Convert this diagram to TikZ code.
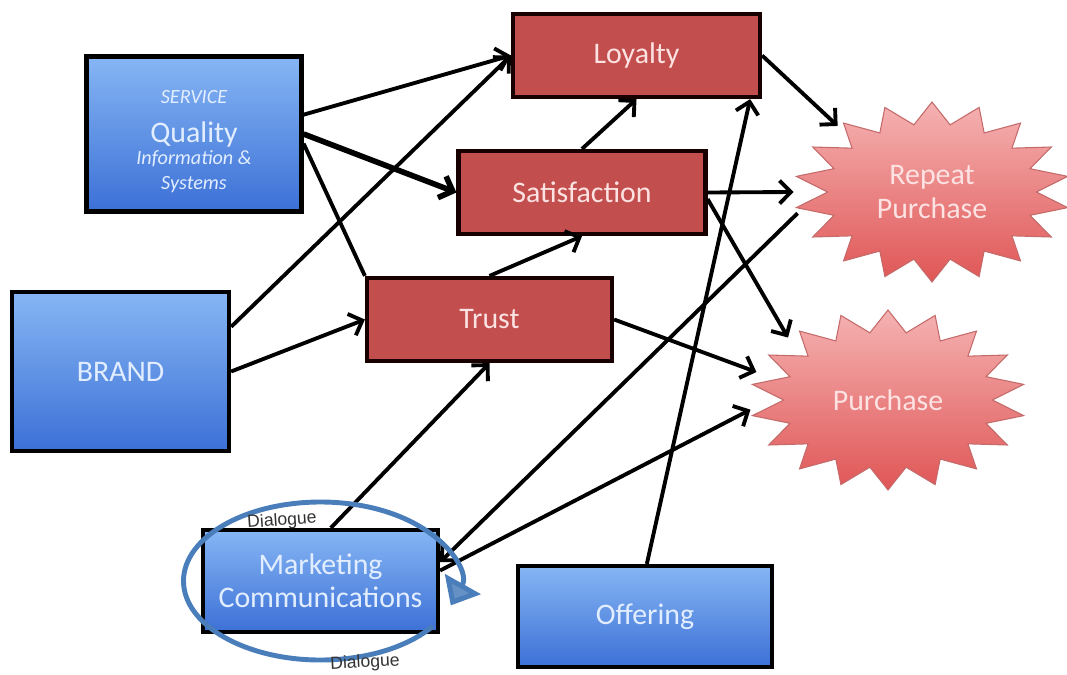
\documentclass[tikz,border=0pt]{standalone}
\usepackage{fontspec}
\setmainfont{Carlito}
\newfontfamily\dlgfont{Liberation Sans}
\usepackage{tikz}
\usetikzlibrary{arrows.meta,shapes.geometric}

\definecolor{blueTop}{HTML}{86B6F4}
\definecolor{blueBot}{HTML}{3C70D6}
\definecolor{blueText}{HTML}{E2EEFF}
\definecolor{boxRed}{HTML}{C24F4D}
\definecolor{redText}{HTML}{FCE2E2}
\definecolor{burstTop}{HTML}{F5B2B2}
\definecolor{burstBot}{HTML}{E05656}
\definecolor{burstEdge}{HTML}{C46A6A}
\definecolor{dlgBlue}{HTML}{4A7EBB}

\newcommand{\bigtxt}{\fontsize{17}{19}\selectfont}
\newcommand{\smallit}{\fontsize{11.5}{13}\selectfont\itshape}

\begin{document}
\begin{tikzpicture}[
    bluebox/.style={draw=black, line width=2.4pt, top color=blueTop, bottom color=blueBot,
        text=blueText, align=center, inner sep=0pt, font=\bigtxt},
    redbox/.style={draw=black!90!red, line width=2.4pt, fill=boxRed, text=redText,
        minimum width=4.94cm, minimum height=1.66cm, font=\bigtxt},
    burst/.style={star, star points=18, star point ratio=1.32, minimum size=3.6cm, inner sep=0pt,
        draw=burstEdge, line width=0.6pt, top color=burstTop, bottom color=burstBot,
        xscale=1.53, transform shape},
    burstlabel/.style={ellipse, minimum width=5.52cm, minimum height=3.6cm, inner sep=0pt,
        text=redText, align=center, font=\bigtxt},
    conn/.style={line width=2.2pt, -{Straight Barb[length=6.5pt,width=13pt]}},
    dlg/.style={font=\dlgfont\fontsize{10}{12}\selectfont, text=black!80},
]
    \useasboundingbox (0,0) rectangle (21.34,-13.48);

    %Drivers
    \node[bluebox, minimum width=4.3cm, minimum height=3.1cm] (quality) at (3.88,-2.68)
        {\rule{0pt}{16pt}{\smallit SERVICE}\\[3pt] Quality\\[-6pt] {\smallit Information \&}\\[-5pt] {\smallit Systems}};
    \node[bluebox, minimum width=4.34cm, minimum height=3.18cm] (brand) at (2.41,-7.43) {BRAND};
    \node[bluebox, minimum width=4.7cm, minimum height=2.04cm] (marcom) at (6.41,-11.62)
        {Marketing\\ Communications};
    \node[bluebox, minimum width=5.08cm, minimum height=2.02cm] (offering) at (12.9,-12.33) {Offering};

    %Outcomes
    \node[redbox] (loyalty) at (12.73,-1.11) {Loyalty};
    \node[redbox] (satisf) at (11.64,-3.85) {Satisfaction};
    \node[redbox, minimum width=4.9cm] (trust) at (9.79,-6.39) {Trust};

    %Purchase bursts
    \node[burst] (repeatstar) at (18.64,-3.84) {};
    \node[burstlabel] (repeat) at (18.64,-3.84) {Repeat\\ Purchase};
    \node[burst] (purchstar) at (17.76,-8.0) {};
    \node[burstlabel] (purchase) at (17.76,-8.0) {Purchase};

    %Links
    \foreach \a/\b in {quality.10/loyalty.west, brand.22/loyalty.west, brand.east/trust.west,
        trust.north/satisf.south, satisf.north/loyalty.south, loyalty.east/repeat.145,
        satisf.east/repeat.180, satisf.-3.5/purchase.148, trust.east/purchase.168,
        marcom.5/purchase.184, marcom.79/trust.south, offering.88/loyalty.-21.3}
    \draw[conn] (\a) -- (\b);
    \draw[conn, line width=3.2pt] (quality.east) -- (satisf.west);
    \draw[line width=2.2pt] (quality.-5) -- (trust.north west);
    \draw[conn, {Straight Barb[length=6.5pt,width=13pt]}-] (marcom.9) -- (repeat.189);

    %Dialogue loop
    \draw[dlgBlue, line width=2.8pt, -{Triangle[width=23pt,length=14pt,fill=dlgBlue!85!white]}]
        (marcom.center) ++(325:2.74cm and 1.58cm)
        arc[start angle=325, end angle=-18, x radius=2.74cm, y radius=1.58cm];
    \node[dlg, rotate=4] (dlgtop) at (5.64,-10.42) {Dialogue};
    \node[dlg, rotate=3] (dlgbot) at (7.3,-13.26) {Dialogue};

\end{tikzpicture}
\end{document}
